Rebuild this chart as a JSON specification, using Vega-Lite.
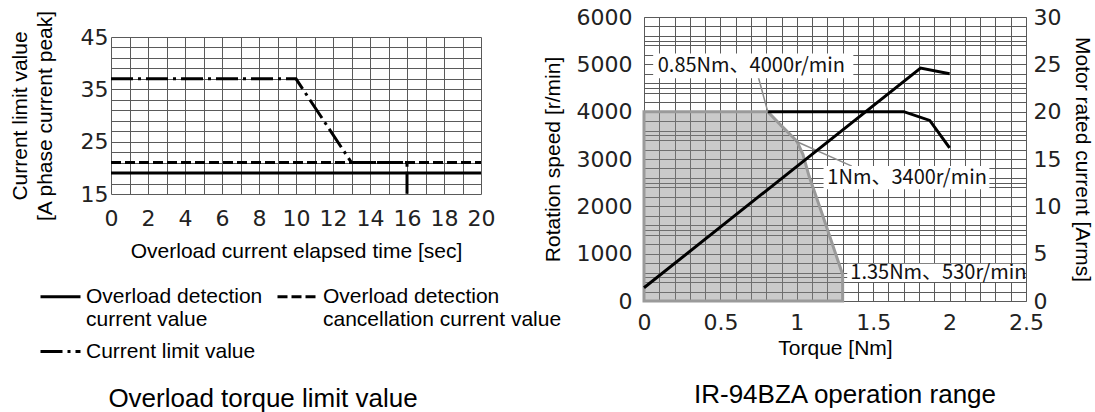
{
  "$schema": "https://vega.github.io/schema/vega-lite/v6.json",
  "padding": {"left": 9, "top": 6, "right": 5, "bottom": 2},
  "background": "white",
  "config": {
    "view": {"stroke": null},
    "font": "Liberation Sans",
    "axis": {
      "labelFont": "DejaVu Sans", "labelFontSize": 22, "labelColor": "#222",
      "titleFont": "Liberation Sans", "titleFontSize": 21, "titleFontWeight": "normal", "titleColor": "#000",
      "ticks": false, "domain": false, "grid": true, "gridColor": "#5a5a5a", "gridWidth": 1, "gridOpacity": 1, "labelFlush": false, "labelOverlap": false
    },
    "title": {"font": "Liberation Sans", "fontSize": 26, "fontWeight": "normal", "color": "#000"}
  },
  "datasets": {
    "left": [
      {"series": "Overload detection current value", "t": 0, "v": 19, "i": 0},
      {"series": "Overload detection current value", "t": 20, "v": 19, "i": 1},
      {"series": "Overload detection cancellation current value", "t": 0, "v": 21, "i": 0},
      {"series": "Overload detection cancellation current value", "t": 20, "v": 21, "i": 1},
      {"series": "Current limit value", "t": 0, "v": 37, "i": 0},
      {"series": "Current limit value", "t": 10, "v": 37, "i": 1},
      {"series": "Current limit value", "t": 13, "v": 21, "i": 2},
      {"series": "Current limit value", "t": 16, "v": 21, "i": 3},
      {"series": "Current limit value", "t": 16, "v": 15, "i": 4}
    ],
    "region": [
      {"x": 0, "y": 4000}, {"x": 0.81, "y": 4000}, {"x": 0.9, "y": 3700}, {"x": 1.0, "y": 3380},
      {"x": 1.04, "y": 3100}, {"x": 1.08, "y": 2640}, {"x": 1.17, "y": 1800}, {"x": 1.3, "y": 560}
    ],
    "speed": [
      {"x": 0.81, "y": 4000}, {"x": 1.7, "y": 4000}, {"x": 1.87, "y": 3815}, {"x": 2.0, "y": 3235}
    ],
    "current": [
      {"x": 0, "a": 1.4}, {"x": 1.81, "a": 24.6}, {"x": 2.0, "a": 24.0}
    ],
    "leaders": [
      {"x": 0.744, "y": 4780, "xe": 0.81, "ye": 4000},
      {"x": 0.99, "y": 3380, "xe": 1.36, "ye": 2850}
    ],
    "notes": [
      {"label": "0.85Nm、4000r/min", "x": 0.09, "y": 4965, "bx": 0.06, "bx2": 1.37, "by": 4705, "by2": 5230},
      {"label": "1Nm、3400r/min", "x": 1.2, "y": 2600, "bx": 1.175, "bx2": 2.26, "by": 2360, "by2": 2850},
      {"label": "1.35Nm、530r/min", "x": 1.35, "y": 590, "bx": 1.33, "bx2": 2.48, "by": 400, "by2": 785}
    ]
  },
  "spacing": 47,
  "hconcat": [
    {
      "bounds": "flush",
      "spacing": 19,
      "vconcat": [
        {
          "width": 370, "height": 1,
          "data": {"values": [{"k": 0}]},
          "mark": {"type": "point", "opacity": 0},
          "encoding": {}
        },
        {
          "width": 370, "height": 157,
          "title": {"text": "Overload torque limit value", "orient": "bottom", "offset": 125, "anchor": "middle", "dx": -33},
          "data": {"name": "left"},
          "mark": {"type": "line", "color": "black", "strokeWidth": 3, "strokeCap": "butt"},
          "encoding": {
            "x": {"field": "t", "type": "quantitative", "scale": {"domain": [0, 20], "nice": false, "zero": false},
              "axis": {"values": [0,1,2,3,4,5,6,7,8,9,10,11,12,13,14,15,16,17,18,19,20],
                "labelExpr": "datum.value % 2 == 0 ? datum.label : ''",
                "title": "Overload current elapsed time [sec]", "labelPadding": 14, "titlePadding": 11}},
            "y": {"field": "v", "type": "quantitative", "scale": {"domain": [15, 45], "nice": false, "zero": false},
              "axis": {"values": [15,17,19,21,23,25,27,29,31,33,35,37,39,41,43,45],
                "labelExpr": "(datum.value - 15) % 10 == 0 ? datum.label : ''",
                "title": ["Current limit value", "[A phase current peak]"], "titleLineHeight": 25,
                "titlePadding": 25, "labelPadding": 3}},
            "strokeDash": {"field": "series", "type": "nominal",
              "scale": {"domain": ["Overload detection current value", "Overload detection cancellation current value", "Current limit value"],
                "range": [[1, 0], [10, 4], [22, 5, 3, 5]]},
              "legend": {"orient": "none", "legendX": -72, "legendY": 258, "direction": "horizontal", "columns": 2,
                "title": null, "symbolType": "stroke", "symbolSize": 1600, "symbolStrokeWidth": 3, "symbolStrokeColor": "black",
                "labelFont": "Liberation Sans", "labelFontSize": 21, "labelColor": "#000", "labelLimit": 400, "labelOffset": 4,
                "columnPadding": 8, "rowPadding": -15,
                "labelExpr": "datum.label == 'Overload detection current value' ? ['Overload detection', 'current value'] : datum.label == 'Overload detection cancellation current value' ? ['Overload detection', 'cancellation current value'] : datum.label"}},
            "order": {"field": "i", "type": "quantitative"}
          }
        }
      ]
    },
    {
      "width": 382, "height": 284,
      "title": {"text": "IR-94BZA operation range", "orient": "bottom", "offset": 24, "anchor": "middle", "dx": 10},
      "layer": [
        {
          "layer": [
            {
              "data": {"name": "region"},
              "mark": {"type": "area", "fill": "#8a8a8a", "fillOpacity": 0.45, "stroke": "#9a9a9a", "strokeWidth": 3},
              "encoding": {
                "x": {"field": "x", "type": "quantitative", "scale": {"domain": [0, 2.5], "nice": false},
                  "axis": {"values": [0,0.1,0.2,0.3,0.4,0.5,0.6,0.7,0.8,0.9,1,1.1,1.2,1.3,1.4,1.5,1.6,1.7,1.8,1.9,2,2.1,2.2,2.3,2.4,2.5],
                    "labelExpr": "round(datum.value * 10) % 5 == 0 ? format(datum.value, '~g') : ''", "grid": true, "labelOverlap": false,
                    "title": "Torque [Nm]", "labelPadding": 11, "titlePadding": 4}},
                "y": {"field": "y", "type": "quantitative", "scale": {"domain": [0, 6000], "nice": false},
                  "axis": {"values": [0,500,1000,1500,2000,2500,3000,3500,4000,4500,5000,5500,6000],
                    "labelExpr": "datum.value % 1000 == 0 ? format(datum.value, 'd') : ''", "grid": true, "labelOverlap": false,
                    "title": "Rotation speed [r/min]", "labelPadding": 12, "titlePadding": 13}}
              }
            },
            {
              "data": {"name": "speed"},
              "mark": {"type": "line", "color": "black", "strokeWidth": 3},
              "encoding": {
                "x": {"field": "x", "type": "quantitative", "scale": {"domain": [0, 2.5], "nice": false},
                  "axis": {"values": [0,0.1,0.2,0.3,0.4,0.5,0.6,0.7,0.8,0.9,1,1.1,1.2,1.3,1.4,1.5,1.6,1.7,1.8,1.9,2,2.1,2.2,2.3,2.4,2.5],
                    "labelExpr": "round(datum.value * 10) % 5 == 0 ? format(datum.value, '~g') : ''", "grid": true, "labelOverlap": false,
                    "title": "Torque [Nm]", "labelPadding": 11, "titlePadding": 4}},
                "y": {"field": "y", "type": "quantitative", "scale": {"domain": [0, 6000], "nice": false},
                  "axis": {"values": [0,500,1000,1500,2000,2500,3000,3500,4000,4500,5000,5500,6000],
                    "labelExpr": "datum.value % 1000 == 0 ? format(datum.value, 'd') : ''", "grid": true, "labelOverlap": false,
                    "title": "Rotation speed [r/min]", "labelPadding": 12, "titlePadding": 13}}
              }
            },
            {
              "data": {"name": "leaders"},
              "mark": {"type": "rule", "color": "#8c8c8c", "strokeWidth": 1.5},
              "encoding": {
                "x": {"field": "x", "type": "quantitative", "scale": {"domain": [0, 2.5], "nice": false},
                  "axis": {"values": [0,0.1,0.2,0.3,0.4,0.5,0.6,0.7,0.8,0.9,1,1.1,1.2,1.3,1.4,1.5,1.6,1.7,1.8,1.9,2,2.1,2.2,2.3,2.4,2.5],
                    "labelExpr": "round(datum.value * 10) % 5 == 0 ? format(datum.value, '~g') : ''", "grid": true, "labelOverlap": false,
                    "title": "Torque [Nm]", "labelPadding": 11, "titlePadding": 4}},
                "y": {"field": "y", "type": "quantitative", "scale": {"domain": [0, 6000], "nice": false},
                  "axis": {"values": [0,500,1000,1500,2000,2500,3000,3500,4000,4500,5000,5500,6000],
                    "labelExpr": "datum.value % 1000 == 0 ? format(datum.value, 'd') : ''", "grid": true, "labelOverlap": false,
                    "title": "Rotation speed [r/min]", "labelPadding": 12, "titlePadding": 13}},
                "x2": {"field": "xe"},
                "y2": {"field": "ye"}
              }
            },
            {
              "data": {"name": "notes"},
              "mark": {"type": "rect", "fill": "white"},
              "encoding": {
                "x": {"field": "bx", "type": "quantitative", "scale": {"domain": [0, 2.5], "nice": false},
                  "axis": {"values": [0,0.1,0.2,0.3,0.4,0.5,0.6,0.7,0.8,0.9,1,1.1,1.2,1.3,1.4,1.5,1.6,1.7,1.8,1.9,2,2.1,2.2,2.3,2.4,2.5],
                    "labelExpr": "round(datum.value * 10) % 5 == 0 ? format(datum.value, '~g') : ''", "grid": true, "labelOverlap": false,
                    "title": "Torque [Nm]", "labelPadding": 11, "titlePadding": 4}},
                "x2": {"field": "bx2"},
                "y": {"field": "by", "type": "quantitative", "scale": {"domain": [0, 6000], "nice": false},
                  "axis": {"values": [0,500,1000,1500,2000,2500,3000,3500,4000,4500,5000,5500,6000],
                    "labelExpr": "datum.value % 1000 == 0 ? format(datum.value, 'd') : ''", "grid": true, "labelOverlap": false,
                    "title": "Rotation speed [r/min]", "labelPadding": 12, "titlePadding": 13}},
                "y2": {"field": "by2"}
              }
            },
            {
              "data": {"name": "notes"},
              "mark": {"type": "text", "align": "left", "baseline": "middle", "font": "Noto Sans CJK JP", "fontSize": 20, "color": "#111"},
              "encoding": {
                "x": {"field": "x", "type": "quantitative", "scale": {"domain": [0, 2.5], "nice": false},
                  "axis": {"values": [0,0.1,0.2,0.3,0.4,0.5,0.6,0.7,0.8,0.9,1,1.1,1.2,1.3,1.4,1.5,1.6,1.7,1.8,1.9,2,2.1,2.2,2.3,2.4,2.5],
                    "labelExpr": "round(datum.value * 10) % 5 == 0 ? format(datum.value, '~g') : ''", "grid": true, "labelOverlap": false,
                    "title": "Torque [Nm]", "labelPadding": 11, "titlePadding": 4}},
                "y": {"field": "y", "type": "quantitative", "scale": {"domain": [0, 6000], "nice": false},
                  "axis": {"values": [0,500,1000,1500,2000,2500,3000,3500,4000,4500,5000,5500,6000],
                    "labelExpr": "datum.value % 1000 == 0 ? format(datum.value, 'd') : ''", "grid": true, "labelOverlap": false,
                    "title": "Rotation speed [r/min]", "labelPadding": 12, "titlePadding": 13}},
                "text": {"field": "label"}
              }
            }
          ]
        },
        {
          "data": {"name": "current"},
          "mark": {"type": "line", "color": "black", "strokeWidth": 3},
          "encoding": {
            "x": {"field": "x", "type": "quantitative", "scale": {"domain": [0, 2.5], "nice": false},
              "axis": {"values": [0,0.1,0.2,0.3,0.4,0.5,0.6,0.7,0.8,0.9,1,1.1,1.2,1.3,1.4,1.5,1.6,1.7,1.8,1.9,2,2.1,2.2,2.3,2.4,2.5],
                "labelExpr": "round(datum.value * 10) % 5 == 0 ? format(datum.value, '~g') : ''", "grid": true, "labelOverlap": false,
                "title": "Torque [Nm]", "labelPadding": 11, "titlePadding": 4}},
            "y": {"field": "a", "type": "quantitative", "scale": {"domain": [0, 30], "nice": false},
              "axis": {"orient": "right", "values": [0,1,2,3,4,5,6,7,8,9,10,11,12,13,14,15,16,17,18,19,20,21,22,23,24,25,26,27,28,29,30],
                "labelExpr": "datum.value % 5 == 0 ? datum.label : ''", "grid": true, "labelOverlap": false,
                "title": "Motor rated current [Arms]", "labelPadding": 7, "titlePadding": 11}}
          }
        }
      ],
      "resolve": {"scale": {"y": "independent"}, "axis": {"y": "independent"}}
    }
  ]
}
